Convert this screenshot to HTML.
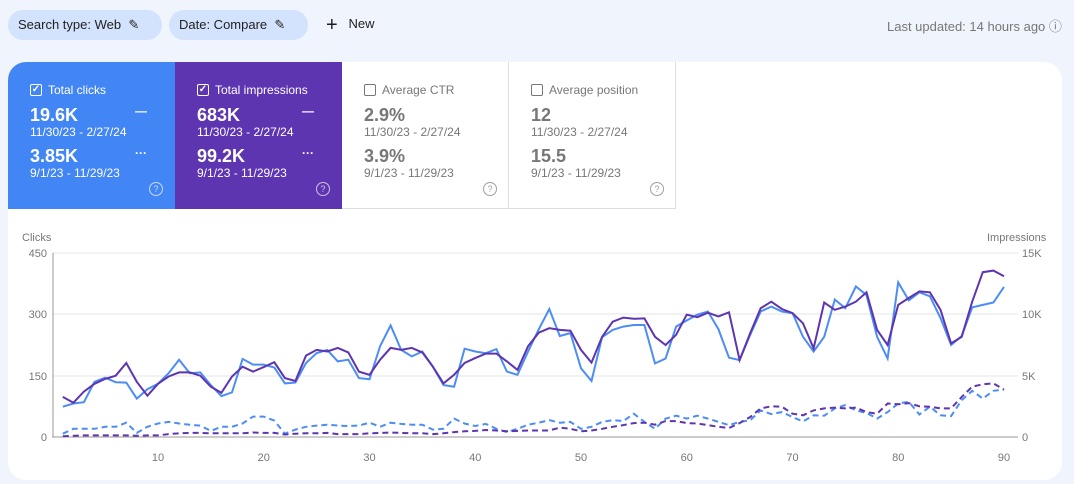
<!DOCTYPE html>
<html><head><meta charset="utf-8"><style>
body{margin:0;width:1074px;height:484px;background:#f0f4fc;font-family:"Liberation Sans",sans-serif;position:relative;overflow:hidden}
.chip{position:absolute;top:10px;height:30px;border-radius:15px;background:#d3e3fd;font-size:13px;color:#1f1f1f;line-height:30px;padding:0 10px;box-sizing:border-box}
.card{position:absolute;left:8px;top:62px;width:1054px;height:418px;background:#fff;border-radius:18px;overflow:hidden}
.t{position:absolute;top:0;height:147px;width:167px;box-sizing:border-box;padding:21px 0 0 22px;font-size:12px}
.t .h{display:flex;align-items:center;gap:6px}
.cb{width:10px;height:10px;border:1.4px solid currentColor;border-radius:2px;display:inline-block;position:relative;font-size:10px;line-height:10px;text-align:center;font-weight:bold}
.v{font-size:18px;font-weight:bold;margin-top:8px;line-height:20px}
.d{font-size:12px;line-height:14px}
.q{position:absolute;left:141px;top:120px;width:12px;height:12px;border:1.3px solid currentColor;border-radius:50%;font-size:9px;text-align:center;line-height:12px;opacity:.7}
.ln{position:absolute;left:127px;font-weight:bold}
</style></head><body>
<div class="chip" style="left:8px;width:154px">Search type: Web &nbsp;✎</div>
<div class="chip" style="left:169px;width:139px">Date: Compare &nbsp;✎</div>
<div style="position:absolute;left:326px;top:14px;font-size:13px;color:#1f1f1f"><span style="font-size:20px;vertical-align:-3px">+</span>&nbsp;&nbsp; New</div>
<div style="position:absolute;left:887px;top:16px;font-size:13px;color:#777">Last updated: 14 hours ago ⓘ</div>
<div class="card">
<div class="t" style="left:0;background:#4285f4;color:#fff"><div class="h"><span class="cb">✓</span>Total clicks</div>
<div class="v">19.6K</div><div class="d">11/30/23 - 2/27/24</div><div class="v" style="margin-top:7px">3.85K</div><div class="d">9/1/23 - 11/29/23</div>
<div class="ln" style="top:42px">—</div><div class="ln" style="top:84px">···</div><div class="q">?</div></div>
<div class="t" style="left:167px;background:#5e35b1;color:#fff"><div class="h"><span class="cb">✓</span>Total impressions</div>
<div class="v">683K</div><div class="d">11/30/23 - 2/27/24</div><div class="v" style="margin-top:7px">99.2K</div><div class="d">9/1/23 - 11/29/23</div>
<div class="ln" style="top:42px">—</div><div class="ln" style="top:84px">···</div><div class="q">?</div></div>
<div class="t" style="left:334px;color:#777;border-right:1px solid #ddd;border-bottom:1px solid #ddd"><div class="h"><span class="cb"></span>Average CTR</div>
<div class="v">2.9%</div><div class="d">11/30/23 - 2/27/24</div><div class="v" style="margin-top:7px">3.9%</div><div class="d">9/1/23 - 11/29/23</div><div class="q">?</div></div>
<div class="t" style="left:501px;color:#777;border-right:1px solid #ddd;border-bottom:1px solid #ddd"><div class="h"><span class="cb"></span>Average position</div>
<div class="v">12</div><div class="d">11/30/23 - 2/27/24</div><div class="v" style="margin-top:7px">15.5</div><div class="d">9/1/23 - 11/29/23</div><div class="q">?</div></div>
</div>
<svg id="s" width="1074" height="484" style="position:absolute;left:0;top:0" font-family="Liberation Sans" font-size="11" fill="#777">
<text x="22" y="241">Clicks</text><text x="987" y="241">Impressions</text>
<g stroke="#e6e6e6"><line x1="52" x2="1018" y1="253" y2="253"/><line x1="52" x2="1018" y1="314" y2="314"/><line x1="52" x2="1018" y1="376" y2="376"/></g>
<line x1="52" x2="1018" y1="437" y2="437" stroke="#999"/><line x1="53" x2="53" y1="253" y2="437" stroke="#999"/>
<g text-anchor="end"><text x="47" y="257">450</text><text x="47" y="318">300</text><text x="47" y="380">150</text><text x="47" y="441">0</text></g>
<text x="1022" y="257">15K</text><text x="1022" y="318">10K</text><text x="1022" y="380">5K</text><text x="1022" y="441">0</text>
<g text-anchor="middle" id="xl"></g>
<g id="lines" fill="none" stroke-width="2"></g>
</svg>
<script>
var pi=[98,84,111,130,142,150,181,135,101,130,148,158,158,150,123,108,148,172,160,171,183,144,137,199,213,209,218,207,160,152,189,218,213,218,207,172,131,152,181,193,204,204,185,164,222,255,266,262,260,213,182,245,282,292,289,290,245,225,250,299,293,304,295,305,188,254,315,331,313,303,278,217,329,311,319,331,354,262,225,323,340,356,354,311,229,245,331,403,407,393];
var bc=[74,82,85,135,145,134,133,94,117,130,156,189,156,158,127,100,109,191,177,177,170,131,133,181,205,213,185,189,144,141,222,273,213,197,209,172,127,123,216,209,205,215,160,152,209,263,313,247,254,168,137,244,262,270,274,274,180,192,270,285,299,307,264,194,188,250,307,319,307,303,245,209,245,336,315,368,347,245,192,378,334,354,344,291,225,247,317,323,329,367];
var bd=[8,20,20,20,25,25,35,10,25,33,37,33,30,28,15,25,25,33,50,50,40,8,18,25,28,30,28,27,28,35,25,35,32,30,30,18,20,45,33,27,32,20,12,20,30,35,41,35,37,20,25,37,41,39,57,37,20,45,52,45,52,45,37,29,37,41,65,56,61,49,38,53,52,70,78,65,59,45,61,82,86,55,74,53,51,90,113,94,113,116];
var pd=[2,3,4,4,4,4,4,3,4,4,7,9,10,10,9,9,9,9,11,10,10,6,8,9,9,10,7,7,7,9,10,11,10,9,9,7,9,12,14,15,17,16,14,15,16,16,16,23,20,14,16,20,25,29,34,35,30,39,39,34,33,29,25,22,34,49,70,75,74,57,53,65,70,72,70,72,61,57,82,80,83,75,74,70,70,98,123,129,131,116];
function X(i){return 62.8+10.575*i}function Y(v){return 437-v*184/450}
function pts(a){return a.map(function(v,i){return X(i).toFixed(1)+','+Y(v).toFixed(1)}).join(' ')}
var g=document.getElementById('lines'),h='';
h+='<polyline points="'+pts(bd)+'" stroke="#4c8df5" stroke-dasharray="6,4"/>';
h+='<polyline points="'+pts(pd)+'" stroke="#5e35b1" stroke-dasharray="6,4"/>';
h+='<polyline points="'+pts(bc)+'" stroke="#4c8df5"/>';
h+='<polyline points="'+pts(pi)+'" stroke="#5e35b1"/>';
g.innerHTML=h;
var xl='';for(var k=10;k<=90;k+=10)xl+='<text x="'+X(k-1)+'" y="461">'+k+'</text>';
document.getElementById('xl').innerHTML=xl;
</script>
</body></html>
